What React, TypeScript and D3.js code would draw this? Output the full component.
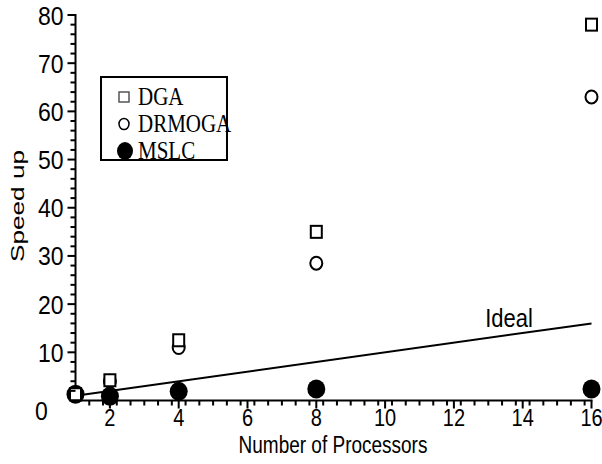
import React from "react";
import * as d3 from "d3";

const processors = [1, 2, 4, 8, 16];
const dga = [1.3, 4.2, 12.5, 35, 78];
const drmoga = [1.3, 4.0, 11.0, 28.5, 63];
const mslc = [1.3, 0.9, 1.9, 2.4, 2.4];
const idealX = [1, 16];
const xTicks = [2, 4, 6, 8, 10, 12, 14, 16];
const yTicks = [10, 20, 30, 40, 50, 60, 70, 80];
const legendItems = ["DGA", "DRMOGA", "MSLC"];

export default function App() {
  const W = 602, H = 464;
  const x = d3.scaleLinear().domain([1, 16]).range([75.5, 591.5]);
  const y = d3.scaleLinear().domain([0, 80]).range([400.5, 15]);
  const xMinor = d3.range(1.4, 16.01, 0.4).filter((v) => Math.abs(v / 2 - Math.round(v / 2)) > 0.01);
  const yMinor = d3.range(2, 80, 2).filter((v) => v % 10 !== 0);
  const line = d3.line<number>().x((d) => x(d)).y((d) => y(d));
  const sans = "'Liberation Sans', Arial, sans-serif";
  const serif = "'Liberation Serif', 'Times New Roman', serif";
  const x0 = x(1), y0 = y(0);
  const ts = 1.15;
  return (
    <svg width={W} height={H} style={{ position: "absolute", left: 0, top: 0, background: "#fff" }}>
      {/* axes */}
      <rect x={x0 - 1} y={y(80) - 1} width={2} height={y0 - y(80) + 2} fill="#000" />
      <rect x={x0 - 1} y={y0 - 1} width={x(16) - x0 + 2} height={2} fill="#000" />
      {yTicks.map((t) => (
        <text key={"yl" + t} transform={`translate(${x0 - 12},${y(t)}) scale(1,${ts})`} dy="0.36em" textAnchor="end" fontFamily={sans} fontSize={23}>{t}</text>
      ))}
      <text transform={`translate(${x0 - 34},${y0 + 10}) scale(1,${ts})`} dy="0.36em" textAnchor="middle" fontFamily={sans} fontSize={23}>0</text>
      {xTicks.map((t) => (
        <text key={"xl" + t} transform={`translate(${x(t)},${y0 + 25}) scale(1,1.2)`} textAnchor="middle" fontFamily={sans} fontSize={20}>{t}</text>
      ))}
      <text transform={`translate(333,453) scale(1,1.3)`} textAnchor="middle" fontFamily={sans} fontSize={19}>Number of Processors</text>
      <text transform={`translate(24,206) scale(1,1.38) rotate(-90)`} textAnchor="middle" fontFamily={sans} fontSize={19}>Speed up</text>

      {/* ideal line */}
      <path d={line(idealX) || ""} fill="none" stroke="#000" strokeWidth={2} />
      <text transform={`translate(509,327) scale(1,1.15)`} textAnchor="middle" fontFamily={sans} fontSize={22}>Ideal</text>

      {/* data */}
      {processors.map((p, i) => (
        <ellipse key={"m" + i} cx={x(p)} cy={y(mslc[i])} rx={9} ry={9.5} fill="#000" />
      ))}
      {processors.map((p, i) => (
        <ellipse key={"c" + i} cx={x(p)} cy={y(drmoga[i])} rx={6} ry={6.5} fill="none" stroke="#000" strokeWidth={2} />
      ))}
      {processors.map((p, i) => (
        <rect key={"s" + i} x={x(p) - 5.5} y={y(dga[i]) - 6} width={11} height={12} fill="#fff" stroke="#000" strokeWidth={2} />
      ))}

      {/* legend */}
      <rect x={101} y={77} width={126} height={83} fill="#fff" stroke="#000" strokeWidth={2} />
      {legendItems.map((name, i) => {
        const cy = 97 + i * 27;
        return (
          <g key={name}>
            {i === 0 && <rect x={119} y={cy - 5} width={10} height={10} fill="#fff" stroke="#555" strokeWidth={1.5} />}
            {i === 1 && <ellipse cx={124} cy={cy} rx={5} ry={5.5} fill="none" stroke="#000" strokeWidth={1.5} />}
            {i === 2 && <ellipse cx={125} cy={cy} rx={8} ry={9} fill="#000" />}
            <text transform={`translate(138,${cy + 8}) scale(1,1.15)`} fontFamily={serif} fontSize={21}>{name}</text>
          </g>
        );
      })}

      {/* ticks */}
      <g fill="#000">
        {yTicks.map((t) => (
          <rect key={"yt" + t} x={x0 - 8} y={y(t) - 1} width={8} height={2} />
        ))}
        {yMinor.map((t) => (
          <rect key={"ym" + t} x={x0 - 5} y={y(t) - 1} width={5} height={2} />
        ))}
        {xTicks.map((t) => (
          <rect key={"xt" + t} x={x(t) - 1} y={y0} width={2} height={8} />
        ))}
        {xMinor.map((t) => (
          <rect key={"xm" + t} x={x(t) - 1} y={y0} width={2} height={5} />
        ))}
      </g>
    </svg>
  );
}
